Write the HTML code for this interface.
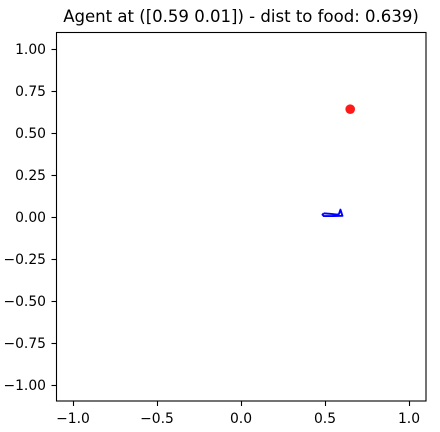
<!DOCTYPE html>
<html>
<head>
<meta charset="utf-8">
<style>
html,body{margin:0;padding:0;background:#fff;width:440px;height:432px;overflow:hidden}
svg{display:block}
text{font-family:"DejaVu Sans","Liberation Sans",sans-serif;fill:#000}
</style>
</head>
<body>
<svg id="chart" width="440" height="432" viewBox="0 0 440 432" xmlns="http://www.w3.org/2000/svg">
<text x="241" y="22" text-anchor="middle" font-size="16.55">Agent at ([0.59 0.01]) - dist to food: 0.639)</text>
</svg>
<script>
const xTicks = [-1.0, -0.5, 0.0, 0.5, 1.0];
const yTicks = [-1.0, -0.75, -0.5, -0.25, 0.0, 0.25, 0.5, 0.75, 1.0];
const pathX = [0.492, 0.53, 0.572, 0.583, 0.592, 0.604, 0.55, 0.492, 0.485, 0.492];
const pathY = [0.02, 0.017, 0.013, 0.016, 0.042, 0.005, 0.004, 0.004, 0.012, 0.02];
const foodX = [0.65];
const foodY = [0.64];

const svg = document.getElementById('chart');
const NS = 'http://www.w3.org/2000/svg';
function sx(v) { return 241 + v * 168; }
function sy(v) { return 216.7 - v * 168; }
function make(tag, attrs) {
  const e = document.createElementNS(NS, tag);
  for (const k in attrs) e.setAttribute(k, attrs[k]);
  svg.appendChild(e);
  return e;
}
const minus = '\u2212';
function fmt(v, d) { return (v < 0 ? minus : '') + Math.abs(v).toFixed(d); }

const line = make('polyline', {
  points: pathX.map((x, i) => sx(x).toFixed(2) + ',' + sy(pathY[i]).toFixed(2)).join(' '),
  fill: 'none', stroke: '#0000ff', 'stroke-width': 1.9, 'stroke-linejoin': 'round'
});



foodX.forEach((x, i) => {
  const c = make('circle', { cx: sx(x), cy: sy(foodY[i]), r: 4.8, fill: '#ff0000', opacity: 0.9 });
  
  
});

const frame = make('rect', { x: 56.5, y: 32.5, width: 369.5, height: 368.5, fill: 'none', stroke: '#000', 'stroke-width': 1.1 });



xTicks.forEach(v => {
  const px = Math.round(sx(v)) + 0.5;
  const t = make('line', { x1: px, x2: px, y1: 401, y2: 406, stroke: '#000', 'stroke-width': 1.1 });
  
  
  const l = make('text', { x: sx(v), y: 423, 'text-anchor': 'middle', 'font-size': 13.89 });
  l.textContent = fmt(v, 1);
  
  
});

yTicks.forEach(v => {
  const py = Math.round(sy(v)) + 0.5;
  const t = make('line', { x1: 51.5, x2: 56.5, y1: py, y2: py, stroke: '#000', 'stroke-width': 1.1 });
  
  
  const l = make('text', { x: 46, y: sy(v) + 5.2, 'text-anchor': 'end', 'font-size': 13.89 });
  l.textContent = fmt(v, 2);
  
  
});
</script>
</body>
</html>
